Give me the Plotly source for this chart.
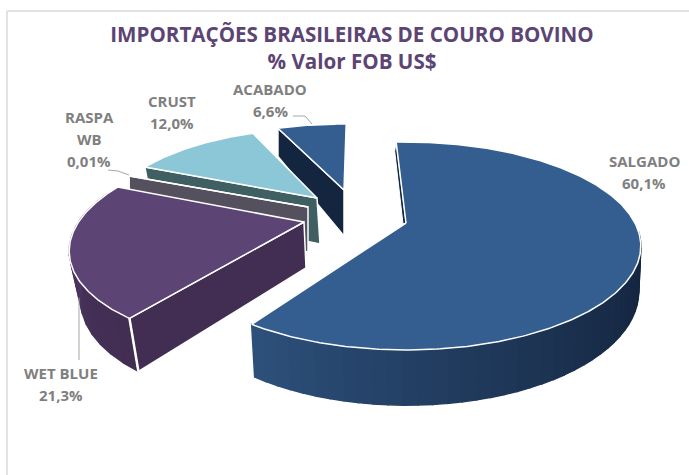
import math
import plotly.graph_objects as go

# ---- data
categories = ["SALGADO", "WET BLUE", "RASPA WB", "CRUST", "ACABADO"]
label_lines = [["SALGADO"], ["WET BLUE"], ["RASPA", "WB"], ["CRUST"], ["ACABADO"]]
values = [60.1, 21.3, 0.01, 12.0, 6.6]
value_text = ["60,1%", "21,3%", "0,01%", "12,0%", "6,6%"]
title_lines = ["IMPORTAÇÕES BRASILEIRAS DE COURO BOVINO", "% Valor FOB US$"]

# ---- styling / view geometry of the tilted, exploded pie
W, H = 689, 475
START = -3.0
RX, RY, K = 229.0, 98.9, 0.221
FACE = ["#355e90", "#5c4474", "#54505e", "#8cc7d8", "#355e90"]
WALL = ["#14263f", "#412e52", "#54505e", "#3f5f63", "#14263f"]
#        apex        matrix (a,b,c,e)            depth exp  lower dx shrink
VIEW = [
    ((406, 223), (1.0, 0.0, 0.0, 1.0),          43, 1.0, 1.0, 0.987),
    ((304, 222), (0.97, -0.245, 0.0204, 0.982), 46, 0.7, 2.0, 0.96),
    ((308, 207), (0.92, -0.166, 0.02, 0.855),   45, 1.0, 0.0, 1.0),
    ((317, 198), (0.887, -0.166, 0.02, 0.855),  46, 1.0, 3.0, 0.97),
    ((344, 190), (0.882, -0.134, 0.022, 0.812), 46, 2.7, 0.0, 1.0),
]
LABEL_POS = [(644, 161), (61, 373), (89, 117), (172, 101), (270, 89)]
LINE_STEP = 22
LEADERS = [None,
           [(79, 298), (79, 360)],
           [(108, 170), (118, 171), (129, 175)],
           None,
           [(293, 116), (305, 116), (312, 124)]]
LABEL_COLOR = "#7f7f7f"
FONT = "Open Sans"


def offset(theta):
    t = math.radians(theta)
    X, d = math.sin(t), math.cos(t)
    s = 1 / (1 + K * d)
    return RX * X * s, -RY * d * s, s


def top(i, theta):
    (ax, ay), (a, b, c, e), *_ = VIEW[i]
    x, y, _s = offset(theta)
    return ax + a * x + b * y, ay + c * x + e * y


def bottom(i, theta):
    (ax, ay), (a, b, c, e), D, p, dx, shrink = VIEW[i]
    x, y, s = offset(theta)
    return (ax + dx + shrink * (a * x + b * y),
            ay + c * x + e * y + D * s ** p)


def apex_bottom(i):
    (ax, ay), _, D, _, dx, _ = VIEW[i]
    return ax + dx, ay + D


def frange(a, b, n):
    return [a + (b - a) * k / n for k in range(n + 1)]


def mix(c1, c2, f):
    p = [int(c1[j:j + 2], 16) for j in (1, 3, 5)]
    q = [int(c2[j:j + 2], 16) for j in (1, 3, 5)]
    return "#%02x%02x%02x" % tuple(round(u + (v - u) * f) for u, v in zip(p, q))


fig = go.Figure()


def poly(points, fill, line="white", width=1.5, name=None):
    xs = [p[0] for p in points] + [points[0][0]]
    ys = [p[1] for p in points] + [points[0][1]]
    fig.add_trace(go.Scatter(x=xs, y=ys, mode="lines", fill="toself",
                             fillcolor=fill, line=dict(color=line, width=width),
                             hoverinfo="skip" if name is None else "name",
                             name=name or "", showlegend=False))


# angular extent of each slice, from the values
total = sum(values)
bounds = []
ang = START
for v in values:
    bounds.append((ang, ang + v / total * 360))
    ang += v / total * 360


def rim_wall(i, t0, t1, c0, c1, n):
    ts = frange(t0, t1, n)
    for k in range(n):
        f = ((k + 0.5) / n) ** 1.4
        col = mix(c0, c1, f)
        poly([top(i, ts[k]), top(i, ts[k + 1]), bottom(i, ts[k + 1]), bottom(i, ts[k])],
             col, line=col, width=1.5)


def face(i):
    t0, t1 = bounds[i]
    ts = frange(t0, t1, max(2, int((t1 - t0) * 1.5)))
    poly([VIEW[i][0]] + [top(i, t) for t in ts], FACE[i], name=categories[i])


def edge_wall(i, theta):
    poly([top(i, theta), VIEW[i][0], apex_bottom(i), bottom(i, theta)], WALL[i])


# far to near
edge_wall(4, bounds[4][0])
face(4)
edge_wall(3, bounds[3][0])
face(3)
edge_wall(2, bounds[2][0])
face(2)
# wet blue
rim_wall(1, bounds[1][0], 285, "#412e52", "#573d70", 14)
edge_wall(1, bounds[1][0])
a = top(1, bounds[1][0])
b = bottom(1, bounds[1][0])
fig.add_trace(go.Scatter(x=[a[0], b[0]], y=[a[1], b[1]], mode="lines",
                         line=dict(color="white", width=2.5),
                         hoverinfo="skip", showlegend=False))
face(1)
# salgado
t0, t1 = bounds[0]
rim_wall(0, 95, t1, "#13233c", "#2d517c", 40)
S = top(0, t0)
A = VIEW[0][0]
poly([S, A, (A[0] - 3, A[1] + 1), (S[0] - 1.5, S[1] + 9)], WALL[0], width=1)
face(0)

# leader lines
for pts in LEADERS:
    if pts:
        fig.add_trace(go.Scatter(x=[p[0] for p in pts], y=[p[1] for p in pts], mode="lines",
                                 line=dict(color="#a6a6a6", width=1),
                                 hoverinfo="skip", showlegend=False))

annotations = []
for lines, val, (x, y) in zip(label_lines, value_text, LABEL_POS):
    for n, text in enumerate(lines + [val]):
        annotations.append(dict(x=x, y=y + n * LINE_STEP, text=f"<b>{text}</b>",
                                showarrow=False, xanchor="center", yanchor="middle",
                                font=dict(family=FONT, size=15, color=LABEL_COLOR)))

fig.update_layout(
    width=W, height=H, margin=dict(l=0, r=0, t=0, b=0),
    paper_bgcolor="white", plot_bgcolor="white",
    showlegend=False,
    title=dict(text="<b>" + "<br>".join(title_lines) + "</b>",
               x=352 / W, xanchor="center", y=1 - 42 / H, yanchor="top",
               font=dict(family=FONT, size=20.6, color="#5c4474")),
    xaxis=dict(range=[0, W], visible=False, fixedrange=True),
    yaxis=dict(range=[H, 0], visible=False, fixedrange=True),
    annotations=annotations,
    shapes=[
        dict(type="line", xref="x", yref="y", x0=7, x1=7, y0=11, y1=H,
             line=dict(color="#e2e2e2", width=2), layer="below"),
        dict(type="line", xref="x", yref="y", x0=7, x1=W, y0=11, y1=11,
             line=dict(color="#e2e2e2", width=2), layer="below"),
    ],
)
fig.write_html("out.html", config=dict(displayModeBar=False),
               post_script="document.body.style.margin='0';document.documentElement.style.overflow='hidden';")
